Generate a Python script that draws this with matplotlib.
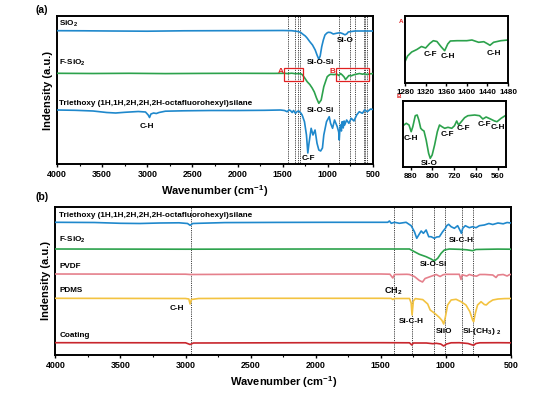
import matplotlib
matplotlib.use("Agg")
import matplotlib.pyplot as plt
from matplotlib.ticker import MultipleLocator, FixedLocator

plt.rcParams['font.family'] = ['Liberation Sans', 'DejaVu Sans']
plt.rcParams['font.weight'] = 'bold'
plt.rcParams['mathtext.fontset'] = 'custom'
plt.rcParams['mathtext.rm'] = 'Liberation Sans:bold'
plt.rcParams['mathtext.bf'] = 'Liberation Sans:bold'
plt.rcParams['mathtext.it'] = 'Liberation Sans:bold'

# ---------------- Panel (a) data ----------------
sio2_wn = [4000, 3700, 3400, 3000, 2600, 2200, 1800, 1500, 1400, 1330, 1300, 1280, 1250, 1230, 1200,
           1170, 1140, 1120, 1100, 1085, 1068, 1050, 1032, 1010, 995, 970, 940, 900, 866, 840, 810,
           790, 774, 740, 700, 600, 500]
sio2_int = [133.3, 133.2, 133.0, 132.8, 133.2, 133.3, 133.4, 133.5, 133.3, 132.5, 131.5, 130, 128, 126,
            122.3, 119, 114, 109, 104.7, 108, 117.3, 124, 129, 131, 131.7, 131.5, 130, 130.8, 131.3,
            130.5, 129.2, 130.2, 132, 132.5, 133, 133, 133]

fsio2_wn = [4000, 3600, 3200, 2800, 2400, 2000, 1600, 1480, 1445, 1400, 1360, 1330, 1300, 1285, 1260,
            1229, 1200, 1174, 1150, 1126, 1100, 1074, 1045, 1020, 1007, 985, 970, 933, 900, 878, 860,
            840, 820, 804, 790, 767, 740, 720, 700, 650, 615, 600, 580, 560, 530, 500]
fsio2_int = [90.7, 90.5, 90.7, 90.4, 90.6, 90.7, 90.6, 90.7, 90.4, 90.8, 90.3, 90.4, 90.2, 89.5, 86.5,
             82.3, 79.5, 76, 72, 66, 60.7, 64, 77.3, 84, 87.3, 89, 89.7, 89.4, 89.8, 88.5, 90.5, 89,
             87, 84.5, 86, 88.5, 88.2, 89, 89.5, 90.5, 89.8, 90.2, 89.7, 89.6, 90.2, 90.4]

tri_wn = [4000, 3800, 3600, 3450, 3350, 3250, 3100, 3020, 2990, 2975, 2960, 2930, 2900, 2870, 2800,
          2600, 2300, 2000, 1700, 1525, 1480, 1451, 1430, 1415, 1395, 1380, 1359, 1340, 1322, 1300,
          1285, 1259, 1237, 1222, 1209, 1185, 1165, 1142, 1120, 1100, 1080, 1060, 1045, 1015, 985,
          970, 948, 926, 896, 880, 874, 866, 859, 850, 845, 837, 830, 820, 814, 792, 767, 741, 711,
          681, 652, 618, 593, 563, 526, 500]
tri_int = [54, 53.7, 53, 51.5, 51, 51.7, 52.5, 52, 49, 46.5, 50, 51, 50.5, 51.5, 52.8,
           53.2, 53.5, 53.5, 53.7, 54, 53.5, 52.3, 54, 53.5, 51.5, 53.5, 50.7, 52.5, 53, 51,
           49, 42.3, 29, 11, 20.7, 35.7, 29, 34, 20.7, 14, 13, 16, 29, 42.3, 47.3,
           40.7, 35.7, 44, 37.3, 32, 24, 36, 39, 33, 42, 42.3, 36, 43, 39, 44, 40.7, 45.7, 43,
           49, 52.3, 50.7, 54, 52.3, 55, 54.5]

insA_wn = [1280, 1285, 1293, 1303, 1312, 1320, 1328, 1335, 1342, 1350, 1357, 1363, 1368, 1381, 1400,
           1410, 1423, 1433, 1441, 1445, 1452, 1466, 1480]
insA_int = [21.3, 27, 31, 33.5, 36.5, 35, 39.5, 42.3, 41.5, 36.3, 32.3, 39, 42, 42.3, 42.3,
            43, 40.7, 41.3, 39, 37.7, 40.7, 42.3, 43]

insB_wn = [908, 896, 886, 878, 872, 863, 856, 850, 843, 837, 831, 823, 814, 808, 801, 792, 782, 774,
           765, 755, 743, 729, 719, 711, 704, 694, 682, 670, 645, 627, 615, 603, 587, 572, 563, 548, 533]
insB_int = [41.3, 43.7, 42, 35.3, 40.3, 51.3, 52, 47, 38.7, 37, 36, 27, 13.7, 8.7, 12, 22, 35.3, 42,
            40.3, 38.7, 39.7, 38.7, 41.3, 46, 42, 45.3, 49.3, 51.3, 52, 51.3, 48, 50, 48, 46, 45.3, 48.7, 51.3]

a_vlines = [1445, 1360, 1330, 1305, 880, 760, 700, 600, 585, 565]
a_ticks = [4000, 3500, 3000, 2500, 2000, 1500, 1000, 500]
insA_ticks = [1280, 1320, 1360, 1400, 1440, 1480]
insB_ticks = [880, 800, 720, 640, 560]

# ---------------- Panel (b) data ----------------
tb_wn = [4000, 3700, 3500, 3350, 3200, 3050, 2985, 2965, 2945, 2900, 2700, 2300, 1900, 1500, 1447,
         1434, 1420, 1395, 1357, 1306, 1267, 1242, 1224, 1209, 1190, 1173, 1152, 1132, 1114, 1089,
         1071, 1050, 1025, 1004, 994, 979, 960, 935, 910, 889, 881, 871, 851, 820, 795, 769, 743,
         705, 670, 640, 600, 560, 530, 500]
tb_int = [132.7, 132.5, 131.7, 131.5, 132, 132.2, 131.5, 129.7, 131.5, 131.7, 132.4, 132.6, 132.7, 132.7, 132.7,
          134, 131.7, 132.7, 131.7, 132.7, 129.3, 123.3, 116.7, 120, 124, 121.7, 125, 118.3, 118.3, 116.7,
          118, 118.3, 123.3, 126.7, 129.3, 130.7, 128.3, 126.7, 129.3, 124, 121.7, 126.7, 129.3, 127.3, 128.3, 127.3, 129.3,
          130, 131.5, 130.5, 132, 131.2, 132.5, 132]

fb_wn = [4000, 3000, 2000, 1500, 1280, 1242, 1204, 1152, 1114, 1089, 1063, 1037, 1012, 974, 897,
         840, 795, 770, 700, 600, 500]
fb_int = [106, 105.8, 106, 106, 106, 103.3, 100.7, 98.3, 96, 94, 96.7, 101.7, 105, 106, 105.7,
          105.2, 104.3, 105.5, 105.7, 105.9, 105.8]

pv_wn = [4000, 3000, 2965, 2000, 1500, 1430, 1408, 1395, 1300, 1280, 1242, 1204, 1180, 1160, 1114,
         1075, 1045, 1020, 999, 950, 897, 884, 875, 840, 820, 795, 765, 740, 700, 640, 615, 600,
         560, 530, 510, 500]
pv_int = [81, 80.8, 80.5, 81, 81, 80.8, 77, 80.5, 80.7, 80.5, 78.5, 74.5, 73, 76.5, 78.7,
          80.5, 78.5, 80.3, 80.7, 80.7, 80.7, 75.5, 80.2, 79, 80.5, 79.5, 78.8, 80.5, 80.5, 80, 77.5, 80,
          80.5, 79, 80.5, 80.5]

pd_wn = [4000, 3500, 3000, 2975, 2965, 2955, 2900, 2500, 2000, 1500, 1420, 1408, 1395, 1280, 1267,
         1260, 1250, 1235, 1178, 1140, 1121, 1100, 1080, 1050, 1030, 1017, 1004, 987, 960, 922, 884,
         846, 816, 795, 787, 774, 757, 730, 705, 690, 670, 640, 600, 550, 500]
pd_int = [56.7, 56.6, 56.5, 56, 51, 55.5, 56.5, 56.7, 56.7, 56.7, 56.6, 55.5, 56.5, 56.5, 52,
          40, 54, 56.4, 55.4, 51, 45, 43, 41, 37.5, 34.5, 31, 38, 50, 55, 55.7, 53.3,
          50, 43.3, 35, 33.3, 41.7, 50, 53.3, 50.5, 50, 52.5, 55, 56, 56.4, 56.5]

co_wn = [4000, 3000, 2965, 2940, 2000, 1500, 1280, 1262, 1250, 1150, 1100, 1075, 1040, 1017, 995,
         960, 897, 830, 800, 787, 770, 740, 600, 500]
co_int = [12.3, 12.2, 10.5, 12, 12.3, 12.3, 12.2, 10, 12, 12, 11.3, 11.7, 11, 9, 11,
          12.2, 12.3, 11.5, 10.2, 9.7, 11.5, 12.2, 12.3, 12.2]

b_vlines = [2960, 1400, 1260, 1090, 1010, 880, 790]

blue = '#1f88cc'
green = '#2ca24c'
pink = '#e5808c'
yellow = '#f3c341'
red = '#c8262d'

W, H = 553, 394
fig = plt.figure(figsize=(W / 100, H / 100), dpi=100)


def box(x0, y0, x1, y1):
    return [x0 / W, 1 - y1 / H, (x1 - x0) / W, (y1 - y0) / H]


def style(ax, fs=6.4):
    for s in ax.spines.values():
        s.set_linewidth(1.4)
    ax.set_yticks([])
    ax.tick_params(axis='x', direction='out', length=2.5, width=1.0, labelsize=fs, pad=1.5)
    ax.tick_params(axis='x', which='minor', direction='out', length=1.5, width=0.8)
    for lab in ax.get_xticklabels():
        lab.set_fontweight('bold')


lw = 1.2
tk = dict(fontsize=5.9, fontweight='bold')
# ---------- (a) main ----------
axa = fig.add_axes(box(57, 16, 373, 164))
for v in a_vlines:
    axa.axvline(v, color='black', ls=(0, (1, 1.2)), lw=0.6, zorder=1)
axa.plot(sio2_wn, sio2_int, color=blue, lw=lw, zorder=3)
axa.plot(fsio2_wn, fsio2_int, color=green, lw=lw, zorder=3)
axa.plot(tri_wn, tri_int, color=blue, lw=lw, zorder=3)
axa.set_xlim(4000, 500)
axa.set_ylim(0, 148)
axa.xaxis.set_major_locator(FixedLocator(a_ticks))
axa.xaxis.set_minor_locator(MultipleLocator(250))
style(axa)
axa.add_patch(plt.Rectangle((1275, 83.3), 214, 13, fill=False, ec='#e02020', lw=0.9, zorder=4))
axa.add_patch(plt.Rectangle((545, 83.3), 366, 13, fill=False, ec='#e02020', lw=0.9, zorder=4))
axa.text(3975, 140, r'SiO$_2$', va='center', ha='left', **tk)
axa.text(3975, 100.7, r'F-SiO$_2$', va='center', ha='left', **tk)
axa.text(3975, 60.7, 'Triethoxy (1H,1H,2H,2H,2H-octafluorohexyl)silane', va='center', ha='left', **tk)
axa.text(3000, 37.3, 'C-H', ha='center', va='center', **tk)
axa.text(811, 124, 'Si-O', ha='center', va='center', **tk)
axa.text(1081, 101.3, 'Si-O-Si', ha='center', va='center', **tk)
axa.text(1081, 54, 'Si-O-Si', ha='center', va='center', **tk)
axa.text(1215, 5, 'C-F', ha='center', va='center', **tk)
axa.text(1526, 92.3, 'A', ha='center', va='center', color='#e02020', **tk)
axa.text(951, 92.3, 'B', ha='center', va='center', color='#e02020', **tk)
axa.set_xlabel(r'Wavenumber (cm$^{-1}$)', fontsize=8, fontweight='bold', labelpad=3)
axa.set_ylabel('Indensity (a.u.)', fontsize=8, fontweight='bold', labelpad=3)

# ---------- inset A ----------
ia = fig.add_axes(box(405, 16, 508, 83))
ia.plot(insA_wn, insA_int, color=green, lw=lw)
ia.set_xlim(1280, 1480)
ia.set_ylim(0, 67)
ia.xaxis.set_major_locator(FixedLocator(insA_ticks))
style(ia, fs=5.8)
ia.text(1329, 29, 'C-F', ha='center', va='center', **tk)
ia.text(1363, 26.3, 'C-H', ha='center', va='center', **tk)
ia.text(1453, 29.7, 'C-H', ha='center', va='center', **tk)
fig.text(401.5 / W, 1 - 21.5 / H, 'A', color='#e02020', fontsize=4.5, fontweight='bold', ha='center', va='center')

# ---------- inset B ----------
ib = fig.add_axes(box(403, 101, 506, 167))
ib.plot(insB_wn, insB_int, color=green, lw=lw)
ib.set_xlim(908, 530)
ib.set_ylim(0, 66)
ib.xaxis.set_major_locator(FixedLocator(insB_ticks))
style(ib, fs=5.8)
ib.text(878, 28.7, 'C-H', ha='center', va='center', **tk)
ib.text(810, 3.7, 'Si-O', ha='center', va='center', **tk)
ib.text(746, 32.7, 'C-F', ha='center', va='center', **tk)
ib.text(685, 38, 'C-F', ha='center', va='center', **tk)
ib.text(610, 42.7, 'C-F', ha='center', va='center', **tk)
ib.text(560, 39.7, 'C-H', ha='center', va='center', **tk)
fig.text(399 / W, 1 - 97 / H, 'B', color='#e02020', fontsize=4.5, fontweight='bold', ha='center', va='center')

# ---------- (b) ----------
axb = fig.add_axes(box(55.4, 207, 511, 355))
for v in b_vlines:
    axb.axvline(v, color='black', ls=(0, (1, 1.2)), lw=0.6, zorder=1)
axb.plot(tb_wn, tb_int, color=blue, lw=lw, zorder=3)
axb.plot(fb_wn, fb_int, color=green, lw=lw, zorder=3)
axb.plot(pv_wn, pv_int, color=pink, lw=lw, zorder=3)
axb.plot(pd_wn, pd_int, color=yellow, lw=lw, zorder=3)
axb.plot(co_wn, co_int, color=red, lw=lw, zorder=3)
axb.set_xlim(4000, 500)
axb.set_ylim(0, 148)
axb.xaxis.set_major_locator(FixedLocator(a_ticks))
axb.xaxis.set_minor_locator(MultipleLocator(250))
style(axb)
axb.text(3970, 139.3, 'Triethoxy (1H,1H,2H,2H,2H-octafluorohexyl)silane', va='center', ha='left', **tk)
axb.text(3970, 115, r'F-SiO$_2$', va='center', ha='left', **tk)
axb.text(3970, 89, 'PVDF', va='center', ha='left', **tk)
axb.text(3970, 65, 'PDMS', va='center', ha='left', **tk)
axb.text(3970, 19.3, 'Coating', va='center', ha='left', **tk)
axb.text(3070, 46.7, 'C-H', ha='center', va='center', **tk)
axb.text(1403, 64, r'CH$_2$', ha='center', va='center', fontsize=6.5, fontweight='bold')
axb.text(1267, 33.3, 'Si-C-H', ha='center', va='center', **tk)
axb.text(1012, 23.3, 'SiiO', ha='center', va='center', **tk)
axb.text(880, 23.3, r'Si-(CH$_3$) $_2$', ha='left', va='center', fontsize=6.0, fontweight='bold')
axb.text(1096, 90.7, 'Si-O-Si', ha='center', va='center', **tk)
axb.text(884, 114, 'Si-C-H', ha='center', va='center', **tk)
axb.set_xlabel(r'Wavenumber (cm$^{-1}$)', fontsize=8, fontweight='bold', labelpad=3)
axb.set_ylabel('Indensity (a.u.)', fontsize=8, fontweight='bold', labelpad=3)

fig.text(42 / W, 1 - 10 / H, '(a)', fontsize=7.5, fontweight='bold', ha='center', va='center')
fig.text(42 / W, 1 - 197 / H, '(b)', fontsize=7.5, fontweight='bold', ha='center', va='center')

fig.savefig('out.png', dpi=100, facecolor='white')
